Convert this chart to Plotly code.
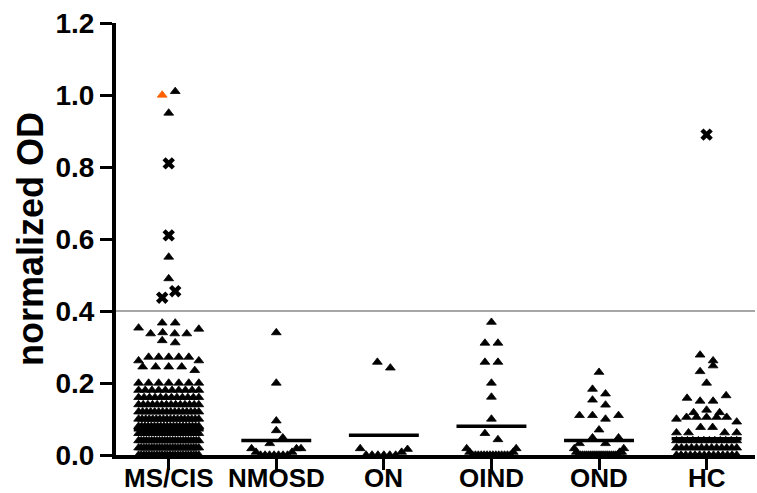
import numpy as np
import plotly.graph_objects as go

# ---------------- data ----------------
groups = ["MS/CIS", "NMOSD", "ON", "OIND", "OND", "HC"]

ms_cis_orange = [1.00]
ms_cis_tri = [
    1.01, 0.95, 0.55, 0.49,
    0.367, 0.367,
    0.34, 0.337, 0.337, 0.337, 0.353, 0.35,
    0.318, 0.312,
    0.272, 0.272, 0.272, 0.272, 0.272, 0.262, 0.262,
    0.245, 0.245, 0.245, 0.245, 0.235,
    0.20, 0.20, 0.20, 0.20, 0.20, 0.20, 0.20,
    0.18, 0.18, 0.18, 0.18, 0.18, 0.18, 0.18, 0.18, 0.18, 0.18,
    0.16, 0.16, 0.16, 0.16, 0.16, 0.16, 0.16, 0.16, 0.16, 0.16, 0.16, 0.16,
    0.14, 0.14, 0.14, 0.14, 0.14, 0.14, 0.14, 0.14, 0.14, 0.14, 0.14, 0.14, 0.14, 0.14,
    0.12, 0.12, 0.12, 0.12, 0.12, 0.12, 0.12, 0.12,
    0.12, 0.12, 0.12, 0.12, 0.12, 0.12, 0.12, 0.12,
    0.10, 0.10, 0.10, 0.10, 0.10, 0.10, 0.10, 0.10, 0.10,
    0.10, 0.10, 0.10, 0.10, 0.10, 0.10, 0.10, 0.10, 0.10,
    0.08, 0.08, 0.08, 0.08, 0.08, 0.08, 0.08, 0.08, 0.08, 0.08,
    0.08, 0.08, 0.08, 0.08, 0.08, 0.08, 0.08, 0.08, 0.08, 0.08,
    0.06, 0.06, 0.06, 0.06, 0.06, 0.06, 0.06, 0.06, 0.06, 0.06, 0.06,
    0.06, 0.06, 0.06, 0.06, 0.06, 0.06, 0.06, 0.06, 0.06, 0.06, 0.06,
    0.04, 0.04, 0.04, 0.04, 0.04, 0.04, 0.04, 0.04, 0.04, 0.04, 0.04, 0.04,
    0.04, 0.04, 0.04, 0.04, 0.04, 0.04, 0.04, 0.04, 0.04, 0.04, 0.04, 0.04,
    0.02, 0.02, 0.02, 0.02, 0.02, 0.02, 0.02, 0.02, 0.02, 0.02, 0.02, 0.02,
    0.02, 0.02, 0.02, 0.02, 0.02, 0.02, 0.02, 0.02, 0.02, 0.02, 0.02, 0.02,
    0.0, 0.0, 0.0, 0.0, 0.0, 0.0, 0.0, 0.0, 0.0, 0.0, 0.0, 0.0,
    0.0, 0.0, 0.0, 0.0, 0.0, 0.0, 0.0, 0.0, 0.0, 0.0, 0.0, 0.0,
]
ms_cis_cross = [0.81, 0.61, 0.437, 0.455]

nmosd_tri = [0.34, 0.20, 0.095, 0.068, 0.032, 0.048,
             0.0, 0.0, 0.0, 0.0, 0.0, 0.0, 0.0, 0.008, 0.008, 0.018, 0.018, 0.018]

on_tri = [0.258, 0.242, 0.0, 0.0, 0.0, 0.0, 0.0, 0.0, 0.008, 0.018, 0.016]

oind_tri = [0.369, 0.311, 0.311, 0.258, 0.258, 0.20, 0.161, 0.10, 0.06, 0.043,
            0.0, 0.0, 0.0, 0.0, 0.0, 0.0, 0.0, 0.0, 0.0, 0.0, 0.0, 0.0, 0.0, 0.0,
            0.008, 0.008, 0.018, 0.018]

ond_tri = [0.23, 0.183, 0.17, 0.153, 0.139, 0.11, 0.10, 0.11, 0.11, 0.07,
           0.048, 0.032, 0.032, 0.048,
           0.0, 0.0, 0.0, 0.0, 0.0, 0.0, 0.0, 0.0, 0.0, 0.0,
           0.0, 0.0, 0.0, 0.0, 0.0, 0.0, 0.0, 0.0, 0.0, 0.0,
           0.008, 0.008, 0.008, 0.018, 0.018]

hc_tri = [0.278, 0.262, 0.232, 0.248, 0.20,
          0.15, 0.15, 0.158, 0.165,
          0.125, 0.118, 0.118,
          0.105, 0.105, 0.105, 0.105, 0.105, 0.10, 0.092,
          0.077, 0.077, 0.062, 0.062, 0.062, 0.062,
          0.04, 0.04, 0.04, 0.04, 0.04, 0.04, 0.04, 0.04, 0.04, 0.04, 0.04, 0.04,
          0.02, 0.02, 0.02, 0.02, 0.02, 0.02, 0.02, 0.02, 0.02, 0.02, 0.02, 0.02, 0.02,
          0.0, 0.0, 0.0, 0.0, 0.0, 0.0, 0.0, 0.0, 0.0, 0.0, 0.0, 0.0, 0.0, 0.0]
hc_cross = [0.89]

group_means = [0.07, 0.04, 0.055, 0.08, 0.04, 0.045]
cutoff = 0.4

# ---------------- layout helpers ----------------
ROW_H = 0.0195     # values closer than this share a row
STEP = 0.121       # horizontal spacing between neighbours (category units)
HALF = [0.28, 0.23, 0.22, 0.23, 0.23, 0.28]   # max half-width of each swarm


def swarm(vals, half):
    vals = np.asarray(vals, float)
    order = np.argsort(vals, kind="stable")
    offs = np.zeros(len(vals))
    rows, cur, start = [], [], None
    for i in order:
        if start is None or vals[i] - start >= ROW_H - 1e-9:
            if cur:
                rows.append(cur)
            cur, start = [i], vals[i]
        else:
            cur.append(i)
    if cur:
        rows.append(cur)
    for r in rows:
        r = sorted(r)
        n = len(r)
        s = STEP if n == 1 else min(STEP, 2 * half / (n - 1))
        slots = [(k - (n - 1) / 2) * s for k in range(n)]
        slots.sort(key=lambda o: (round(abs(o), 6), o))
        for idx, o in zip(r, slots):
            offs[idx] = o
    return offs


group_data = [
    [("orange", ms_cis_orange), ("tri", ms_cis_tri), ("cross", ms_cis_cross)],
    [("tri", nmosd_tri)],
    [("tri", on_tri)],
    [("tri", oind_tri)],
    [("tri", ond_tri)],
    [("tri", hc_tri), ("cross", hc_cross)],
]

pts = {"tri": ([], []), "cross": ([], []), "orange": ([], [])}
for gi, parts in enumerate(group_data):
    vals, kinds = [], []
    for kind, arr in parts:
        vals += list(arr)
        kinds += [kind] * len(arr)
    offs = swarm(vals, HALF[gi])
    for v, k, o in zip(vals, kinds, offs):
        pts[k][0].append(gi + o)
        pts[k][1].append(v)

fig = go.Figure()
fig.add_trace(go.Scatter(
    x=pts["tri"][0], y=pts["tri"][1], mode="markers",
    marker=dict(symbol="triangle-up", size=8.5, color="black",
                line=dict(color="black", width=0.8)),
    cliponaxis=False, hoverinfo="y", showlegend=False))
fig.add_trace(go.Scatter(
    x=pts["orange"][0], y=pts["orange"][1], mode="markers",
    marker=dict(symbol="triangle-up", size=8.5, color="#FF5F00",
                line=dict(color="#FF5F00", width=0.8)),
    cliponaxis=False, hoverinfo="y", showlegend=False))
fig.add_trace(go.Scatter(
    x=pts["cross"][0], y=pts["cross"][1], mode="markers",
    marker=dict(symbol="x", size=11, color="black", line=dict(width=0)),
    cliponaxis=False, hoverinfo="y", showlegend=False))

# mean lines
mx, my = [], []
for gi, m in enumerate(group_means):
    mx += [gi - 0.325, gi + 0.325, None]
    my += [m, m, None]
fig.add_trace(go.Scatter(x=mx, y=my, mode="lines",
                         line=dict(color="black", width=3.5),
                         cliponaxis=False, hoverinfo="skip", showlegend=False))

fig.add_shape(type="line", xref="paper", x0=0, x1=1, yref="y",
              y0=cutoff, y1=cutoff, line=dict(color="#A6A6A6", width=2),
              layer="below")

FONT = "Liberation Sans, Arial, sans-serif"

# category labels placed just under the axis
for gi, name in enumerate(groups):
    fig.add_annotation(x=gi, y=0, xref="x", yref="y", text=name,
                       showarrow=False, yanchor="middle", yshift=-23,
                       font=dict(size=26, family=FONT, weight="bold",
                                 color="black"))

fig.update_layout(
    width=757, height=493,
    margin=dict(l=116, r=2, t=23, b=38),
    paper_bgcolor="white", plot_bgcolor="white",
    font=dict(family=FONT, color="black"),
    xaxis=dict(range=[-0.49, 5.45], tickmode="array",
               tickvals=list(range(len(groups))), showticklabels=False,
               showline=True, linewidth=4, linecolor="black",
               ticks="outside", ticklen=11, tickwidth=3, tickcolor="black",
               showgrid=False, zeroline=False, fixedrange=True,
               automargin=False),
    yaxis=dict(range=[0, 1.2], tickmode="linear", tick0=0, dtick=0.2,
               tickformat=".1f",
               showline=True, linewidth=4, linecolor="black",
               ticks="outside", ticklen=12, tickwidth=3, tickcolor="black",
               tickfont=dict(size=28, family=FONT, weight="bold"),
               title=dict(text="normalized OD", standoff=2,
                          font=dict(size=36, family=FONT, weight="bold")),
               showgrid=False, zeroline=False, fixedrange=True,
               automargin=False),
)

fig.write_html("out.html")
